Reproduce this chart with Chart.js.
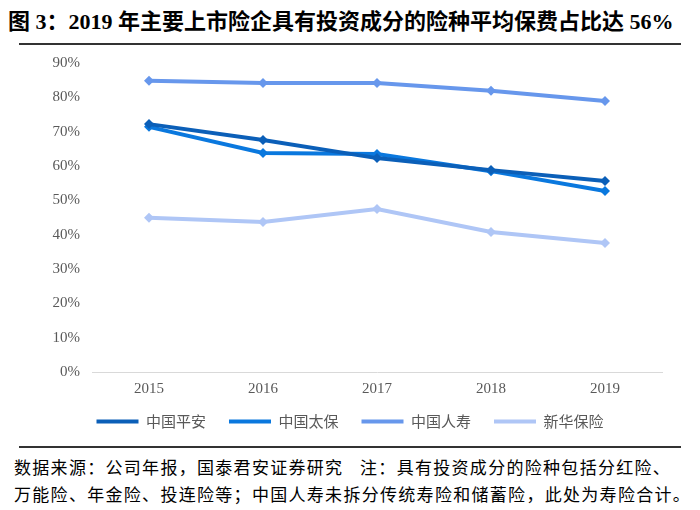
<!DOCTYPE html>
<html>
<head>
<meta charset="utf-8">
<script src="https://cdn.jsdelivr.net/npm/chart.js@4.4.0/dist/chart.umd.min.js"></script>
<style>
  body { margin: 0; background: #fff; width: 700px; height: 510px; position: relative; overflow: hidden; }
  #title {
    position: absolute; left: 8px; top: 3px; white-space: nowrap;
    font: bold 22px "Liberation Serif", "Noto Sans CJK SC", serif; color: #000;
  }
  .rule { position: absolute; left: 19px; width: 662px; height: 2px; background: #333; }
  #chartBox { position: absolute; left: 0; top: 42px; width: 700px; height: 397px; }
  .note {
    position: absolute; left: 14px; white-space: nowrap; letter-spacing: 1.3px;
    font: 17px "Liberation Serif", "Noto Sans CJK SC", serif; color: #000;
  }
</style>
</head>
<body>
<div id="title">图&nbsp;3：2019 年主要上市险企具有投资成分的险种平均保费占比达 56%</div>
<div class="rule" style="top:43px"></div>
<div id="chartBox"><canvas id="lineChart"></canvas></div>
<div class="rule" style="top:446px"></div>
<div class="note" style="top:454px">数据来源：公司年报，国泰君安证券研究&nbsp;&nbsp;&nbsp;注：具有投资成分的险种包括分红险、</div>
<div class="note" style="top:481px">万能险、年金险、投连险等；中国人寿未拆分传统寿险和储蓄险，此处为寿险合计。</div>

<script>
// 年份
const years = ['2015', '2016', '2017', '2018', '2019'];
// 各公司占比 (%)
const pingan = [72.2, 67.6, 62.3, 58.8, 55.6];
const taibao = [71.4, 63.8, 63.5, 58.5, 52.7];
const renshou = [84.8, 84.2, 84.2, 81.9, 78.9];
const xinhua = [44.9, 43.7, 47.5, 40.8, 37.6];
const seriesNames = ['中国平安', '中国太保', '中国人寿', '新华保险'];
const seriesColors = ['#0b5fb8', '#0a78de', '#6797ec', '#afc6f6'];

const allSeries = [pingan, taibao, renshou, xinhua];

const datasets = allSeries.map((values, i) => ({
    label: seriesNames[i],
    data: values,
    borderColor: seriesColors[i],
    backgroundColor: seriesColors[i],
    borderWidth: 4,
    pointStyle: 'rectRot',
    pointRadius: 5,
    pointBorderWidth: 0,
    pointBackgroundColor: seriesColors[i],
    tension: 0
}));

const ctx = document.getElementById('lineChart').getContext('2d');
new Chart(ctx, {
    type: 'line',
    data: { labels: years, datasets: datasets },
    options: {
        responsive: true,
        maintainAspectRatio: false,
        animation: false,
        layout: { padding: { top: 4, right: 0, left: 0, bottom: 0 } },
        scales: {
            x: {
                offset: true,
                grid: { display: false, drawTicks: false },
                border: { display: true, color: '#d9d9d9', width: 1 },
                ticks: {
                    color: '#595959',
                    padding: 8,
                    font: { family: '"Liberation Serif", serif', size: 15 }
                }
            },
            y: {
                min: 0,
                max: 90,
                grid: { display: false, drawTicks: false },
                border: { display: false },
                afterFit: function(scale) { scale.width = 92; },
                ticks: {
                    stepSize: 10,
                    color: '#595959',
                    padding: 12,
                    font: { family: '"Liberation Serif", serif', size: 15 },
                    callback: v => v + '%'
                }
            },
            // 右侧留白
            yRight: {
                position: 'right',
                min: 0,
                max: 90,
                grid: { display: false, drawTicks: false },
                border: { display: false },
                ticks: { display: false },
                afterFit: function(scale) { scale.width = 38; }
            }
        },
        plugins: {
            tooltip: { enabled: false },
            legend: {
                position: 'bottom',
                labels: {
                    boxWidth: 42,
                    boxHeight: 4,
                    padding: 8,
                    color: '#595959',
                    font: { family: '"Noto Sans CJK SC", sans-serif', size: 15 },
                    generateLabels: chart => chart.data.datasets.map((ds, i) => ({
                        text: i < 3 ? ds.label + '\u3000' : ds.label,
                        fillStyle: ds.borderColor,
                        strokeStyle: ds.borderColor,
                        lineWidth: 0,
                        fontColor: '#595959',
                        datasetIndex: i
                    }))
                }
            }
        }
    }
});
</script>
</body>
</html>
